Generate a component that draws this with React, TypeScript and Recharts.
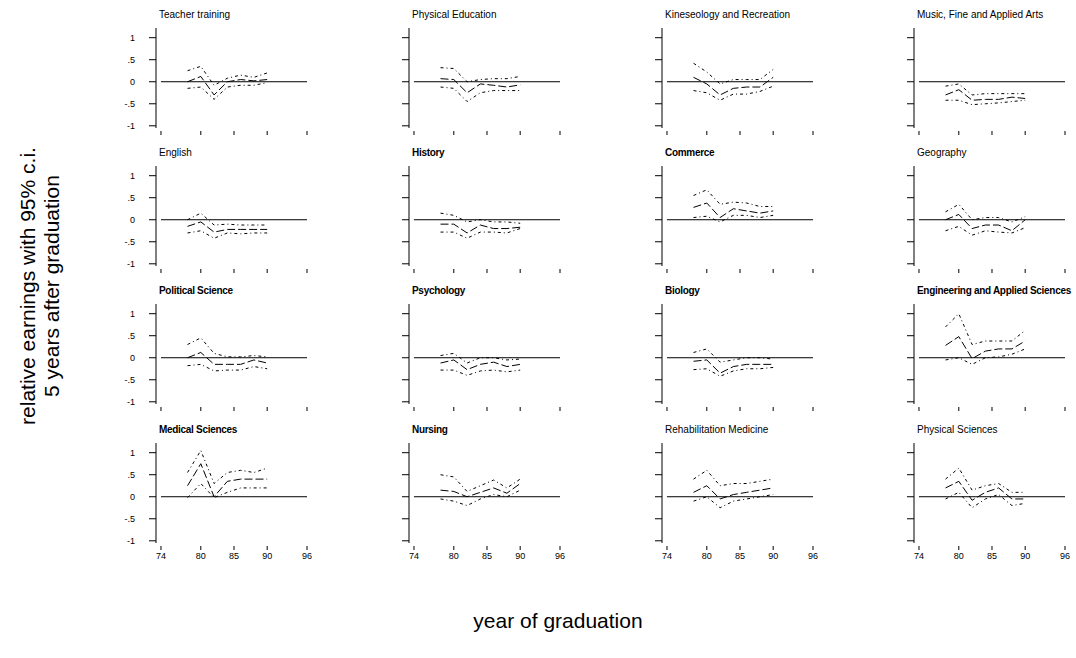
import React from 'react';
import { LineChart, Line, XAxis, YAxis, ReferenceLine } from 'recharts';

// graduation cohorts plotted in every panel
const years = [78, 80, 82, 84, 86, 88, 90];
const xTicks = [74, 80, 85, 90, 96];
const yTicks = [-1, -0.5, 0, 0.5, 1];
const baseline = [74, 96];

const titles = [
  'Teacher training', 'Physical Education', 'Kineseology and Recreation', 'Music, Fine and Applied Arts',
  'English', 'History', 'Commerce', 'Geography',
  'Political Science', 'Psychology', 'Biology', 'Engineering and Applied Sciences',
  'Medical Sciences', 'Nursing', 'Rehabilitation Medicine', 'Physical Sciences',
];
const boldTitles = ['History', 'Commerce', 'Political Science', 'Psychology', 'Biology', 'Engineering and Applied Sciences', 'Medical Sciences', 'Nursing'];

const teacherEst = [0, 0.12, -0.3, 0, 0.05, 0.02, 0.05];
const teacherLo = [-0.15, -0.12, -0.4, -0.12, -0.08, -0.08, -0.02];
const teacherHi = [0.25, 0.35, -0.08, 0.08, 0.15, 0.1, 0.2];

const physEdEst = [0.07, 0.05, -0.25, -0.05, -0.08, -0.12, -0.07];
const physEdLo = [-0.12, -0.15, -0.45, -0.25, -0.2, -0.2, -0.2];
const physEdHi = [0.32, 0.3, 0.0, 0.05, 0.07, 0.07, 0.12];

const kinEst = [0.1, -0.05, -0.3, -0.15, -0.12, -0.12, 0.1];
const kinLo = [-0.2, -0.25, -0.42, -0.28, -0.28, -0.22, -0.1];
const kinHi = [0.42, 0.22, -0.05, 0.05, 0.05, 0.05, 0.28];

const musicEst = [-0.3, -0.18, -0.42, -0.4, -0.4, -0.35, -0.38];
const musicLo = [-0.42, -0.42, -0.52, -0.5, -0.48, -0.45, -0.42];
const musicHi = [-0.1, -0.05, -0.3, -0.27, -0.27, -0.27, -0.27];

const englishEst = [-0.15, -0.05, -0.28, -0.22, -0.22, -0.22, -0.22];
const englishLo = [-0.3, -0.25, -0.42, -0.3, -0.32, -0.3, -0.3];
const englishHi = [0.0, 0.15, -0.12, -0.1, -0.12, -0.12, -0.12];

const historyEst = [-0.1, -0.1, -0.3, -0.12, -0.2, -0.2, -0.17];
const historyLo = [-0.28, -0.28, -0.42, -0.28, -0.28, -0.3, -0.2];
const historyHi = [0.15, 0.1, -0.05, 0.0, -0.05, -0.05, -0.08];

const commerceEst = [0.28, 0.38, 0.05, 0.25, 0.2, 0.15, 0.2];
const commerceLo = [0.05, 0.08, -0.05, 0.1, 0.1, 0.05, 0.1];
const commerceHi = [0.55, 0.68, 0.35, 0.4, 0.38, 0.3, 0.3];

const geographyEst = [0.0, 0.12, -0.2, -0.12, -0.12, -0.25, 0.0];
const geographyLo = [-0.25, -0.15, -0.35, -0.25, -0.28, -0.3, -0.18];
const geographyHi = [0.18, 0.35, 0.0, 0.05, 0.05, -0.05, 0.07];

const polSciEst = [0.0, 0.12, -0.15, -0.15, -0.15, -0.05, -0.12];
const polSciLo = [-0.18, -0.15, -0.3, -0.28, -0.28, -0.2, -0.25];
const polSciHi = [0.3, 0.45, 0.1, 0.02, 0.02, 0.05, 0.02];

const psychEst = [-0.12, -0.05, -0.27, -0.15, -0.1, -0.2, -0.15];
const psychLo = [-0.28, -0.28, -0.4, -0.3, -0.28, -0.32, -0.28];
const psychHi = [0.05, 0.1, -0.12, 0.0, 0.0, -0.05, -0.03];

const biologyEst = [-0.08, -0.05, -0.35, -0.2, -0.15, -0.15, -0.15];
const biologyLo = [-0.27, -0.25, -0.42, -0.3, -0.25, -0.25, -0.22];
const biologyHi = [0.12, 0.2, -0.1, -0.05, 0.0, 0.0, -0.03];

const engEst = [0.28, 0.48, -0.02, 0.15, 0.2, 0.2, 0.38];
const engLo = [-0.05, 0.0, -0.15, 0.0, 0.02, 0.08, 0.2];
const engHi = [0.7, 1.0, 0.3, 0.38, 0.38, 0.38, 0.62];

const medEst = [0.25, 0.75, 0.0, 0.35, 0.4, 0.4, 0.4];
const medLo = [-0.02, 0.3, -0.02, 0.1, 0.2, 0.2, 0.2];
const medHi = [0.55, 1.05, 0.3, 0.55, 0.6, 0.55, 0.65];

const nursingEst = [0.15, 0.12, 0.0, 0.1, 0.2, 0.08, 0.3];
const nursingLo = [-0.05, -0.1, -0.2, -0.05, 0.05, 0.0, 0.15];
const nursingHi = [0.5, 0.45, 0.12, 0.25, 0.38, 0.2, 0.4];

const rehabEst = [0.1, 0.25, -0.05, 0.05, 0.1, 0.15, 0.2];
const rehabLo = [-0.1, 0.0, -0.25, -0.1, -0.05, 0.0, 0.05];
const rehabHi = [0.4, 0.6, 0.25, 0.3, 0.3, 0.35, 0.4];

const physSciEst = [0.2, 0.35, -0.08, 0.1, 0.2, -0.05, -0.05];
const physSciLo = [-0.05, 0.1, -0.25, -0.05, 0.05, -0.2, -0.15];
const physSciHi = [0.4, 0.65, 0.15, 0.25, 0.3, 0.1, 0.1];

const series = [
  [teacherEst, teacherLo, teacherHi], [physEdEst, physEdLo, physEdHi], [kinEst, kinLo, kinHi], [musicEst, musicLo, musicHi],
  [englishEst, englishLo, englishHi], [historyEst, historyLo, historyHi], [commerceEst, commerceLo, commerceHi], [geographyEst, geographyLo, geographyHi],
  [polSciEst, polSciLo, polSciHi], [psychEst, psychLo, psychHi], [biologyEst, biologyLo, biologyHi], [engEst, engLo, engHi],
  [medEst, medLo, medHi], [nursingEst, nursingLo, nursingHi], [rehabEst, rehabLo, rehabHi], [physSciEst, physSciLo, physSciHi],
];

const FONT = '"Liberation Sans", Arial, Helvetica, sans-serif';
const colX = [156, 409, 662, 914]; // y-axis line of each column
const rowZero = [82, 220, 358, 497]; // pixel row of y = 0
const Y_TOP = 1.22;
const Y_BOT = -1.05;
const PLOT_H = 100;
const PLOT_W = 153;
const AXIS_W = 40;
const MARGIN_TOP = 5;

const fmtY = (v: number) => String(v).replace('0.', '.');

const XTick = ({ x, y, payload, showLabel }: any) => (
  <g>
    <line x1={x} x2={x} y1={y - 6} y2={y - 2} stroke="#000" strokeWidth={1} />
    {showLabel && (
      <text x={x} y={y + 7} textAnchor="middle" fontSize={9} fill="#000" fontFamily={FONT}>
        {payload.value}
      </text>
    )}
  </g>
);

const Panel = ({ idx }: { idx: number }) => {
  const row = Math.floor(idx / 4);
  const col = idx % 4;
  const [est, lo, hi] = series[idx];
  const data = years.map((yr, i) => ({ year: yr, est: est[i], lo: lo[i], hi: hi[i] }));
  const left = colX[col] - AXIS_W;
  const top = rowZero[row] - (Y_TOP / (Y_TOP - Y_BOT)) * PLOT_H - MARGIN_TOP;
  const title = titles[idx];
  const bold = boldTitles.includes(title);

  return (
    <>
      <div
        style={{
          position: 'absolute',
          left: colX[col] + 3,
          top: rowZero[row] - 64 - 8.5,
          fontSize: 10,
          lineHeight: '10px',
          whiteSpace: 'nowrap',
          fontWeight: bold ? 'bold' : 'normal',
          letterSpacing: bold ? -0.3 : 0,
          color: '#000',
        }}
      >
        {title}
      </div>
      <div style={{ position: 'absolute', left, top }}>
        <LineChart
          width={AXIS_W + PLOT_W + 5}
          height={MARGIN_TOP + PLOT_H + 25}
          data={data}
          margin={{ top: MARGIN_TOP, right: 5, left: 0, bottom: 0 }}
        >
          <XAxis
            dataKey="year"
            type="number"
            domain={[73.25, 96.3]}
            ticks={xTicks}
            interval={0}
            allowDataOverflow
            axisLine={false}
            tickLine={false}
            tickSize={7}
            tickMargin={2}
            height={25}
            tick={(p: any) => <XTick {...p} showLabel={row === 3} />}
          />
          <YAxis
            type="number"
            domain={[Y_BOT, Y_TOP]}
            ticks={yTicks}
            interval={0}
            allowDataOverflow
            width={AXIS_W}
            axisLine={{ stroke: '#000' }}
            tickLine={{ stroke: '#000' }}
            tickSize={7}
            tickMargin={14}
            tickFormatter={col === 0 ? fmtY : () => ''}
            tick={{ fontSize: 9, fill: '#000', fontFamily: FONT }}
          />
          <ReferenceLine
            segment={[{ x: baseline[0], y: 0 }, { x: baseline[1], y: 0 }]}
            stroke="#000"
            strokeWidth={1}
            ifOverflow="visible"
          />
          <Line dataKey="hi" type="linear" stroke="#000" strokeWidth={1} strokeDasharray="3 3 1 3" dot={false} isAnimationActive={false} />
          <Line dataKey="lo" type="linear" stroke="#000" strokeWidth={1} strokeDasharray="3 3 1 3" dot={false} isAnimationActive={false} />
          <Line dataKey="est" type="linear" stroke="#000" strokeWidth={1} strokeDasharray="8 3" dot={false} isAnimationActive={false} />
        </LineChart>
      </div>
    </>
  );
};

export default function App() {
  return (
    <div
      style={{
        position: 'absolute',
        left: 0,
        top: 0,
        width: 1076,
        height: 658,
        background: '#fff',
        fontFamily: FONT,
        overflow: 'hidden',
      }}
    >
      {titles.map((t, i) => (
        <Panel key={t} idx={i} />
      ))}
      <div
        style={{
          position: 'absolute',
          left: 40 - 200,
          top: 286 - 24,
          width: 400,
          height: 48,
          fontSize: 21,
          lineHeight: '24px',
          textAlign: 'center',
          transform: 'rotate(-90deg)',
          color: '#000',
        }}
      >
        relative earnings with 95% c.i.
        <br />
        5 years after graduation
      </div>
      <div
        style={{
          position: 'absolute',
          left: 558 - 200,
          top: 621 - 12,
          width: 400,
          fontSize: 21,
          lineHeight: '24px',
          textAlign: 'center',
          color: '#000',
        }}
      >
        year of graduation
      </div>
    </div>
  );
}
